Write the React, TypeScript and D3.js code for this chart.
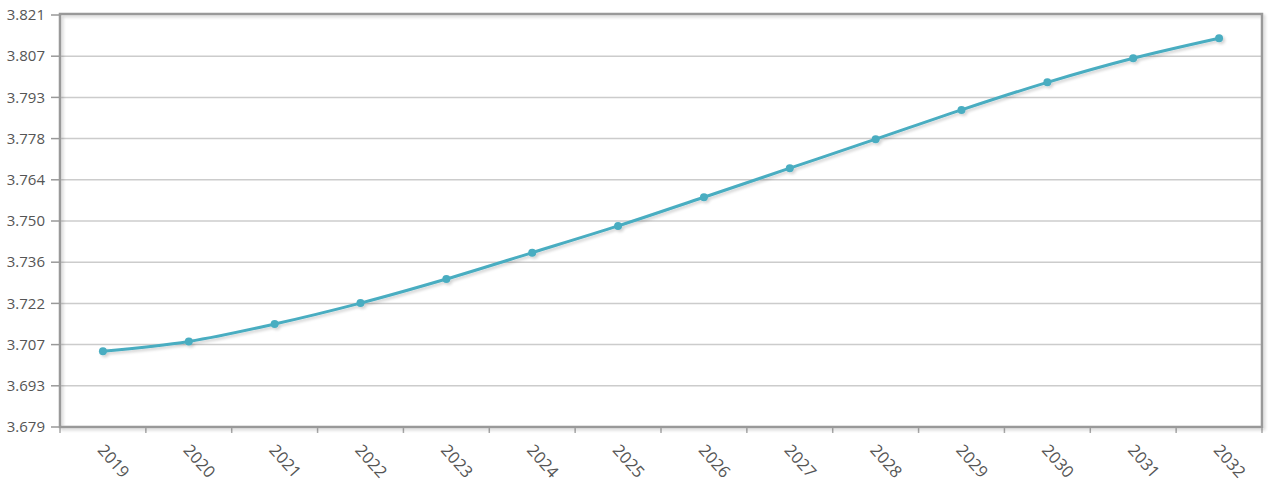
import React from "react";
import * as d3 from "d3";

const years = ["2019","2020","2021","2022","2023","2024","2025","2026","2027","2028","2029","2030","2031","2032"];
const values = [3.7051,3.7085,3.7145,3.7217,3.7300,3.7391,3.7483,3.7582,3.7682,3.7782,3.7883,3.7978,3.8061,3.8130];
const yMin = 3.679;
const yStep = 0.0142;
const yTickCount = 11;
const yTicks = d3.range(yTickCount).map((i) => yMin + i * yStep);

const W = 1280, H = 496;
const L = 60, R = 1262, T = 15, B = 427;
const LINE = "#4aadc1";
const FONT = "'Open Sans', sans-serif";

export default function App() {
  const x = d3.scaleBand<string>().domain(years).range([L, R]).paddingInner(0).paddingOuter(0);
  const y = d3.scaleLinear().domain([yTicks[0], yTicks[yTicks.length - 1]]).range([B, T]);
  const cx = (d: string) => (x(d) as number) + x.bandwidth() / 2;
  const pts: [number, number][] = years.map((d, i) => [cx(d), y(values[i])]);
  const line = d3.line<[number, number]>().x((p) => p[0]).y((p) => p[1]).curve(d3.curveMonotoneX);
  const path = line(pts) as string;
  const bounds = years.map((d) => x(d) as number).concat([R]);
  return (
    <svg width={W} height={H} style={{ position: "absolute", left: 0, top: 0, background: "#fff" }}>
      <defs>
        <filter id="sh" x="-20%" y="-20%" width="140%" height="140%">
          <feGaussianBlur in="SourceAlpha" stdDeviation="1.5" />
          <feOffset dx="1.5" dy="1.5" result="b" />
          <feComponentTransfer><feFuncA type="linear" slope="0.18" /></feComponentTransfer>
          <feMerge><feMergeNode /><feMergeNode in="SourceGraphic" /></feMerge>
        </filter>
      </defs>
      {yTicks.map((t, i) => (
        <g key={i}>
          {i > 0 && i < yTicks.length - 1 && (
            <line x1={L} x2={R} y1={y(t)} y2={y(t)} stroke="#cccccc" strokeWidth={1.5} />
          )}
          <line x1={L - 9} x2={L} y1={y(t)} y2={y(t)} stroke="#999" strokeWidth={1.5} />
          <text x={L - 15} y={y(t)} dy="0.35em" textAnchor="end" fontFamily={FONT} fontSize={15} fill="#555">
            {d3.format(".3f")(t)}
          </text>
        </g>
      ))}
      {bounds.map((b, i) => (
        <line key={i} x1={b} x2={b} y1={B} y2={B + 6} stroke="#aaa" strokeWidth={1.5} />
      ))}
      <rect x={L} y={T - 1} width={R - L} height={B - T + 1} fill="none" stroke="#999" strokeWidth={2.5} filter="url(#sh)" />
      <g filter="url(#sh)">
        <path d={path} fill="none" stroke={LINE} strokeWidth={3} />
        {pts.map((p, i) => (
          <circle key={i} cx={p[0]} cy={p[1]} r={4} fill={LINE} />
        ))}
      </g>
      {years.map((d) => (
        <text key={d} transform={`translate(${cx(d) - 2},${B + 20}) rotate(48)`} dy="0.35em" fontFamily={FONT} fontSize={16.5} fill="#555">
          {d}
        </text>
      ))}
    </svg>
  );
}
